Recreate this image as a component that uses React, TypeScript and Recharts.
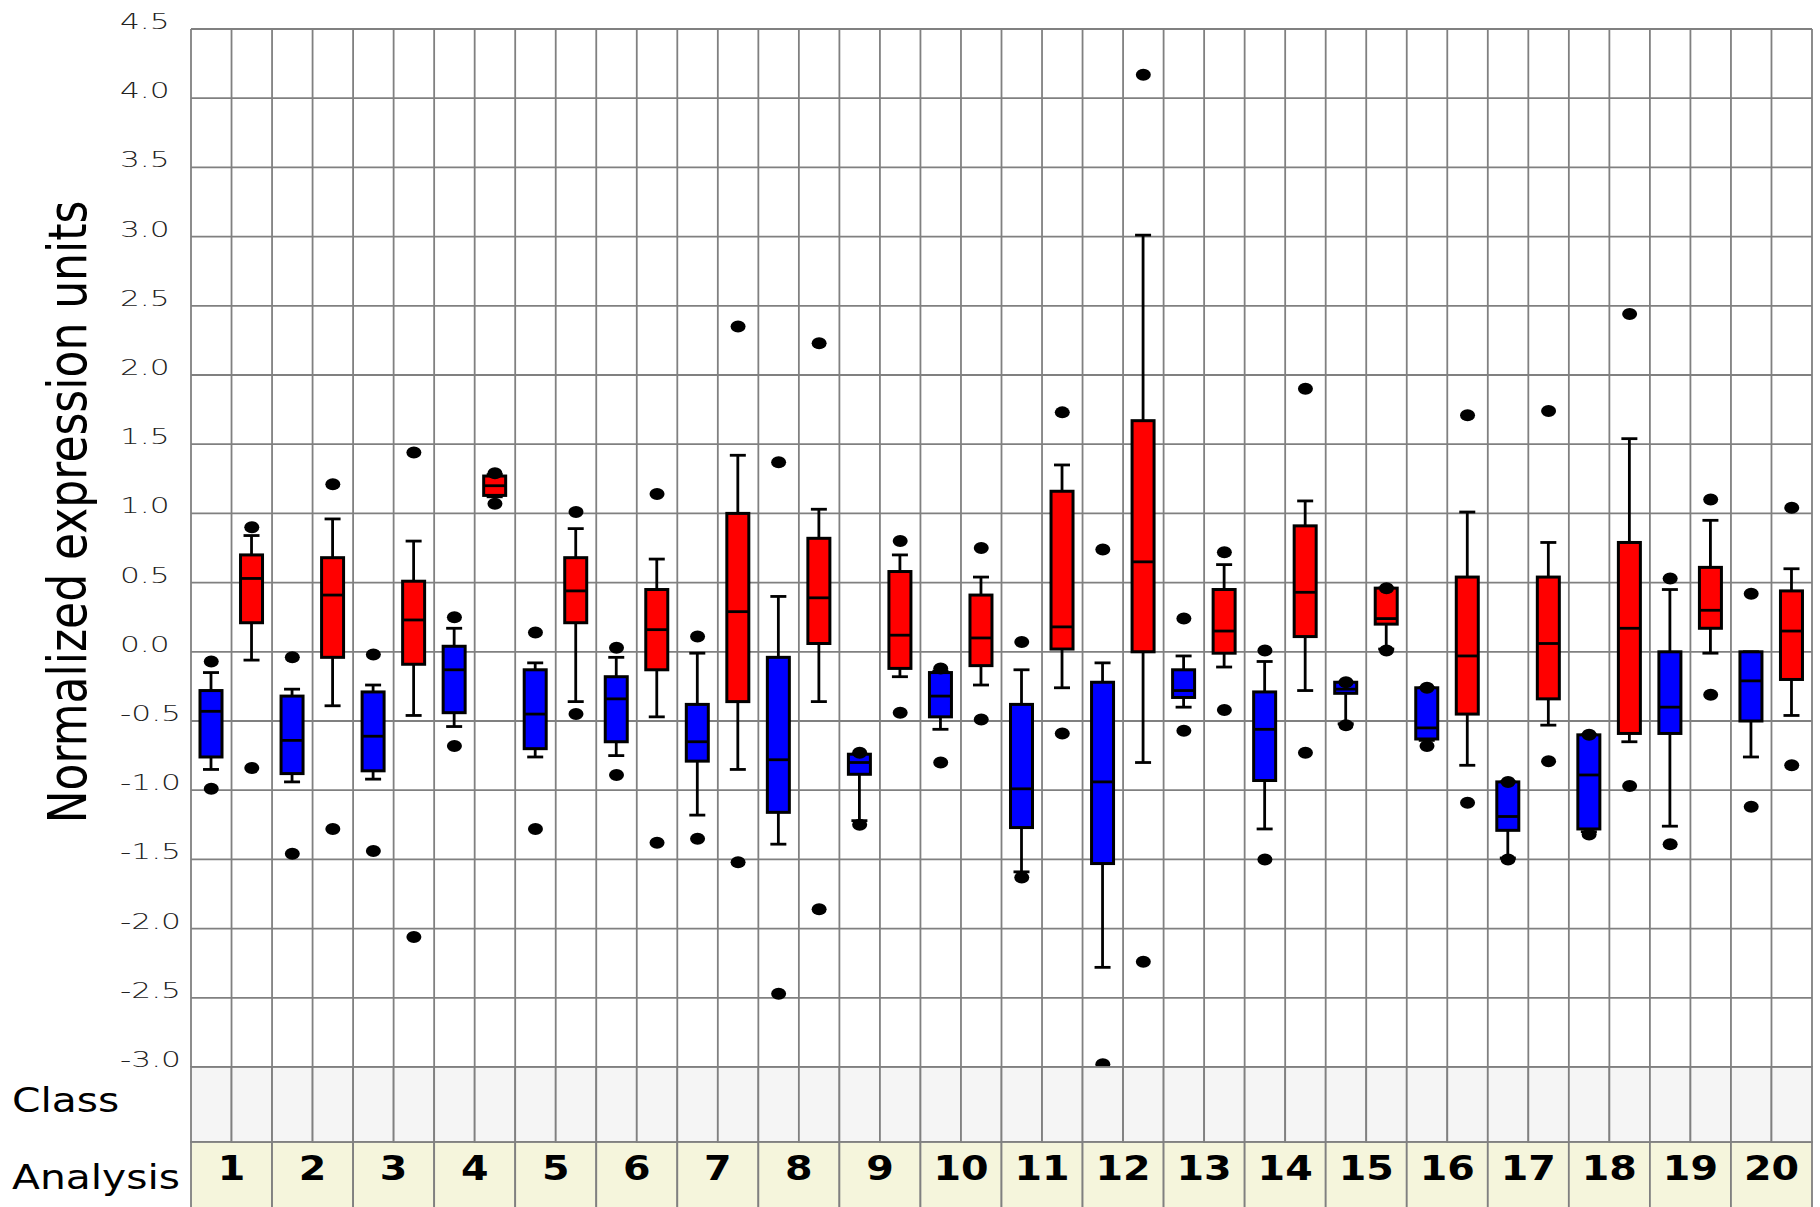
import React from "react";
import { ComposedChart, Bar, Scatter, XAxis, YAxis, CartesianGrid } from "recharts";

const ANALYSES = [1, 2, 3, 4, 5, 6, 7, 8, 9, 10, 11, 12, 13, 14, 15, 16, 17, 18, 19, 20];
const Y_TICKS = [-3, -2.5, -2, -1.5, -1, -0.5, 0, 0.5, 1, 1.5, 2, 2.5, 3, 3.5, 4, 4.5];

// class 0 (blue)
const BLUE_MIN = [-0.85, -0.94, -0.92, -0.54, -0.76, -0.75, -1.18, -1.39, -1.22, -0.56, -1.59, -2.28, -0.4, -1.28, -0.52, -0.64, -1.49, -1.3, -1.26, -0.76];
const BLUE_Q1 = [-0.76, -0.88, -0.86, -0.44, -0.7, -0.65, -0.79, -1.16, -0.885, -0.47, -1.27, -1.53, -0.33, -0.93, -0.3, -0.63, -1.29, -1.28, -0.59, -0.5];
const BLUE_MED = [-0.43, -0.64, -0.61, -0.13, -0.45, -0.34, -0.65, -0.78, -0.8, -0.32, -0.99, -0.94, -0.28, -0.56, -0.27, -0.55, -1.19, -0.89, -0.4, -0.21];
const BLUE_Q3 = [-0.28, -0.32, -0.29, 0.04, -0.13, -0.18, -0.38, -0.04, -0.74, -0.15, -0.38, -0.22, -0.13, -0.29, -0.22, -0.26, -0.94, -0.6, 0.0, 0.0];
const BLUE_MAX = [-0.15, -0.27, -0.24, 0.17, -0.08, -0.04, -0.01, 0.4, -0.74, -0.14, -0.13, -0.08, -0.03, -0.07, -0.22, -0.26, -0.94, -0.6, 0.45, 0.0];
const BLUE_HI = [-0.07, -0.04, -0.02, 0.25, 0.14, 0.03, 0.11, 1.37, -0.73, -0.12, 0.07, 0.74, 0.24, 0.01, -0.22, -0.26, -0.94, -0.6, 0.53, 0.42];
const BLUE_LO = [-0.99, -1.46, -1.44, -0.68, -1.28, -0.89, -1.35, -2.47, -1.25, -0.8, -1.63, -2.98, -0.57, -1.5, -0.53, -0.68, -1.5, -1.32, -1.39, -1.12];

// class 1 (red)
const RED_MIN = [-0.06, -0.39, -0.46, 1.12, -0.36, -0.47, -0.85, -0.36, -0.18, -0.24, -0.26, -0.8, -0.11, -0.28, 0.02, -0.82, -0.53, -0.65, -0.01, -0.46];
const RED_Q1 = [0.21, -0.04, -0.09, 1.13, 0.21, -0.13, -0.36, 0.06, -0.12, -0.1, 0.02, 0.0, -0.01, 0.11, 0.2, -0.45, -0.34, -0.59, 0.17, -0.2];
const RED_MED = [0.53, 0.41, 0.23, 1.2, 0.44, 0.16, 0.29, 0.39, 0.12, 0.1, 0.18, 0.65, 0.15, 0.43, 0.24, -0.03, 0.06, 0.17, 0.3, 0.15];
const RED_Q3 = [0.7, 0.68, 0.51, 1.27, 0.68, 0.45, 1.0, 0.82, 0.58, 0.41, 1.16, 1.67, 0.45, 0.91, 0.46, 0.54, 0.54, 0.79, 0.61, 0.44];
const RED_MAX = [0.84, 0.96, 0.8, 1.28, 0.89, 0.67, 1.42, 1.03, 0.7, 0.54, 1.35, 3.01, 0.63, 1.09, 0.46, 1.01, 0.79, 1.54, 0.95, 0.6];
const RED_HI = [0.9, 1.21, 1.44, 1.29, 1.01, 1.14, 2.35, 2.23, 0.8, 0.75, 1.73, 4.17, 0.72, 1.9, 0.46, 1.71, 1.74, 2.44, 1.1, 1.04];
const RED_LO = [-0.84, -1.28, -2.06, 1.07, -0.45, -1.38, -1.52, -1.86, -0.44, -0.49, -0.59, -2.24, -0.42, -0.73, 0.01, -1.09, -0.79, -0.97, -0.31, -0.82];

const CLASS_COLORS = ["#0000ff", "#ff0000"];

const W = 1820;
const H = 1207;
const TOP = 29;
const RIGHT = 8;
const Y_AXIS_W = 191;
const AXIS_H = 140;
const CLASS_H = 75;
const PLOT_BOTTOM = H - AXIS_H;
const COL_W = (W - Y_AXIS_W - RIGHT) / (ANALYSES.length * 2);
const GRID = "#808080";
const GRID_W = 1.8;
const FONT = "'DejaVu Sans', Verdana, sans-serif";

const rows = ANALYSES.flatMap((a, i) => [
  { id: `${a}a`, analysis: a, cls: 0, min: BLUE_MIN[i], q1: BLUE_Q1[i], med: BLUE_MED[i], q3: BLUE_Q3[i], max: BLUE_MAX[i], hi: BLUE_HI[i], lo: BLUE_LO[i] },
  { id: `${a}b`, analysis: a, cls: 1, min: RED_MIN[i], q1: RED_Q1[i], med: RED_MED[i], q3: RED_Q3[i], max: RED_MAX[i], hi: RED_HI[i], lo: RED_LO[i] },
]);

const Whisker = (p: any) => {
  const cx = p.x + p.width / 2;
  const y2 = p.y + p.height;
  return (
    <g stroke="#000" strokeWidth={2.8}>
      <line x1={cx} x2={cx} y1={p.y} y2={y2} />
      <line x1={cx - 8} x2={cx + 8} y1={p.y} y2={p.y} />
      <line x1={cx - 8} x2={cx + 8} y1={y2} y2={y2} />
    </g>
  );
};

const Box = (p: any) => (
  <rect x={p.x} y={p.y} width={p.width} height={p.height} fill={CLASS_COLORS[p.payload.cls]} stroke="#000" strokeWidth={3} />
);

const Median = (p: any) => (
  <line x1={p.cx - 11} x2={p.cx + 11} y1={p.cy} y2={p.cy} stroke="#000" strokeWidth={2.8} />
);

const Dot = (p: any) => <ellipse cx={p.cx} cy={p.cy} rx={7.5} ry={6} fill="#000" />;

const YTick = (p: any) => (
  <text
    transform={`translate(120, ${p.y}) scale(1.42, 1)`}
    fontFamily={FONT}
    fontSize={22}
    fontWeight={200}
    fill="#222"
  >
    {Number(p.payload.value).toFixed(1)}
  </text>
);

// draws the "Class" strip cell and the "Analysis" cell under each column
const BandTick = (p: any) => {
  const { x, index } = p;
  const left = x - COL_W / 2;
  const first = index % 2 === 0;
  const analysis = ANALYSES[Math.floor(index / 2)];
  return (
    <g>
      <rect x={left} y={PLOT_BOTTOM} width={COL_W} height={CLASS_H} fill="#f5f5f5" stroke={GRID} strokeWidth={GRID_W} />
      {first && (
        <g>
          <rect x={left} y={PLOT_BOTTOM + CLASS_H} width={COL_W * 2} height={AXIS_H - CLASS_H + 2} fill="#f5f5dc" stroke={GRID} strokeWidth={GRID_W} />
          <text
            transform={`translate(${left + COL_W}, 1180) scale(1.2, 1)`}
            textAnchor="middle"
            fontFamily={FONT}
            fontWeight="bold"
            fontSize={33}
            fill="#000"
          >
            {analysis}
          </text>
        </g>
      )}
      {index === 0 && (
        <g fontFamily={FONT} fontSize={34} fill="#000">
          <text transform="translate(12, 1112) scale(1.2, 1)">Class</text>
          <text transform="translate(12, 1189) scale(1.2, 1)">Analysis</text>
        </g>
      )}
    </g>
  );
};

const YTitle = () => (
  <text
    transform="translate(86, 512) rotate(-90) scale(1, 1.2)"
    textAnchor="middle"
    fontFamily={FONT}
    fontSize={44}
    fill="#000"
  >
    Normalized expression units
  </text>
);

export default function App() {
  return (
    <div style={{ width: W, height: H, background: "#fff" }}>
      <style>{"body{margin:0}"}</style>
      <ComposedChart width={W} height={H} data={rows} margin={{ top: TOP, right: RIGHT, bottom: 0, left: 0 }}>
        <CartesianGrid
          xAxisId="cat"
          stroke={GRID}
          strokeWidth={GRID_W}
          verticalCoordinatesGenerator={({ offset }: any) =>
            Array.from({ length: rows.length + 1 }, (_, i) => offset.left + (i * offset.width) / rows.length)
          }
        />
        <XAxis
          xAxisId="cat"
          dataKey="id"
          height={AXIS_H}
          axisLine={false}
          tickLine={false}
          interval={0}
          tick={(props: any) => <BandTick {...props} />}
        />
        <XAxis xAxisId="wh" dataKey="id" hide />
        <XAxis xAxisId="bx" dataKey="id" hide />
        <YAxis
          type="number"
          domain={[-3, 4.5]}
          ticks={Y_TICKS}
          allowDataOverflow
          width={Y_AXIS_W}
          axisLine={false}
          tickLine={false}
          tick={(props: any) => <YTick {...props} />}
          label={<YTitle />}
        />
        <Bar xAxisId="wh" dataKey={(d: any) => [d.min, d.max]} barSize={22} shape={Whisker} isAnimationActive={false} />
        <Bar xAxisId="bx" dataKey={(d: any) => [d.q1, d.q3]} barSize={22} shape={Box} isAnimationActive={false} />
        <Scatter xAxisId="cat" dataKey="med" shape={Median} isAnimationActive={false} />
        <Scatter xAxisId="cat" dataKey="hi" shape={Dot} isAnimationActive={false} />
        <Scatter xAxisId="cat" dataKey="lo" shape={Dot} isAnimationActive={false} />
      </ComposedChart>
    </div>
  );
}
